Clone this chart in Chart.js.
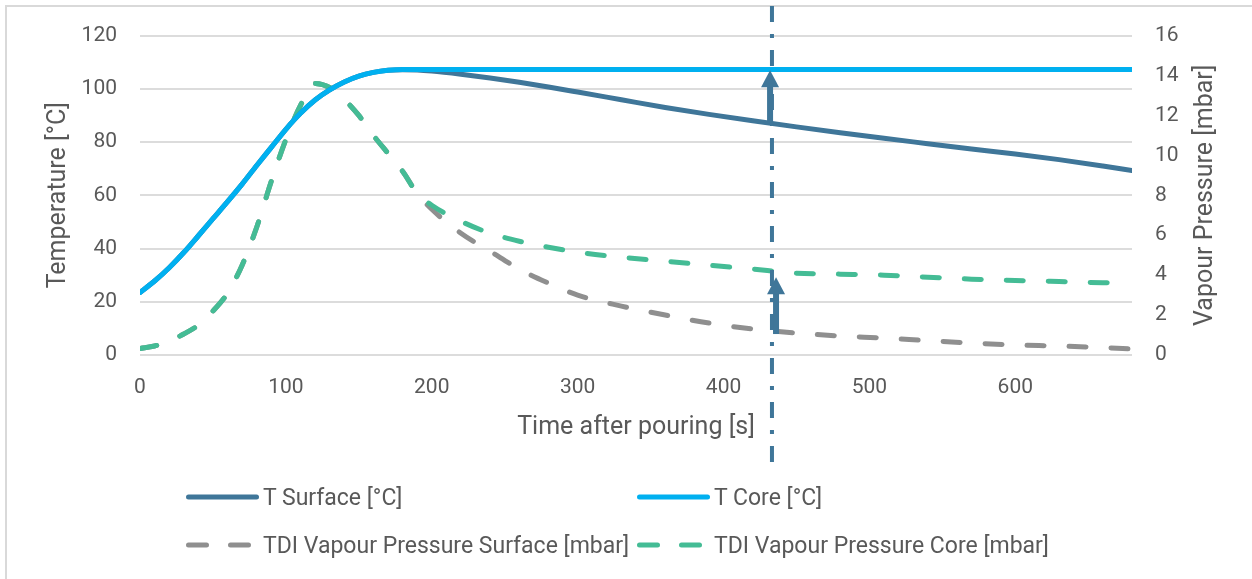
<!DOCTYPE html>
<html>
<head>
<meta charset="utf-8">
<title>Temperature and TDI vapour pressure after pouring</title>
<script src="https://cdn.jsdelivr.net/npm/chart.js@4.4.1/dist/chart.umd.min.js"></script>
<style>
    html, body { margin: 0; padding: 0; background: #fff; }
    #wrap { position: relative; width: 1252px; height: 579px; overflow: hidden; font-family: Roboto, sans-serif; color: #595959; }
    #frame { position: absolute; left: 5px; top: 5px; right: -10px; bottom: -10px; border-left: 2px solid #d9d9d9; border-top: 2px solid #d9d9d9; }
    #chart { position: absolute; left: 0; top: 0; }
    .legend-item { position: absolute; height: 30px; display: flex; align-items: center; font-size: 23px; white-space: nowrap; }
    .legend-item span { margin-left: 2px; }
</style>
</head>
<body>
<div id="wrap">
    <div id="frame"></div>
    <canvas id="chart" width="1252" height="579"></canvas>
    <div id="legend"></div>
</div>
<script>
// time after pouring [s]
const timeSec = [0, 10, 20, 30, 40, 50, 60, 70, 80, 90, 100, 110, 120, 130, 140, 150, 160, 170, 180, 190, 200,
    220, 240, 260, 280, 300, 330, 360, 390, 420, 450, 480, 510, 540, 570, 600, 630, 660, 680];

// temperatures [°C]
const tSurface = [23.5, 27.8, 32.8, 38.5, 44.8, 51.2, 57.6, 64.2, 71.2, 78, 84.8, 90.8, 95.8, 99.6, 102.6, 104.8, 106.2, 107, 107.2, 107.1, 106.7,
    105.5, 104.1, 102.5, 100.7, 98.8, 95.9, 93, 90.4, 88, 85.7, 83.5, 81.4, 79.4, 77.4, 75.5, 73.4, 71, 69.3];
const tCore = [23.5, 27.8, 32.8, 38.5, 44.8, 51.2, 57.6, 64.2, 71.2, 78, 84.8, 90.8, 95.8, 99.6, 102.6, 104.8, 106.2, 107, 107.3, 107.3, 107.3,
    107.3, 107.3, 107.3, 107.3, 107.3, 107.3, 107.3, 107.3, 107.3, 107.3, 107.3, 107.3, 107.3, 107.3, 107.3, 107.3, 107.3, 107.3];

// TDI vapour pressure [mbar]
const vpSurface = [0.33, 0.45, 0.7, 1.05, 1.5, 2.2, 3.1, 4.5, 6.4, 8.7, 10.8, 12.5, 13.6, 13.4, 12.8, 12.0, 11.0, 10.1, 9.2, 8.1, 7.3,
    6.1, 5.2, 4.3, 3.6, 3.0, 2.45, 2.0, 1.6, 1.3, 1.1, 0.95, 0.85, 0.72, 0.6, 0.5, 0.45, 0.37, 0.3];
const vpCore = [0.33, 0.45, 0.7, 1.05, 1.5, 2.2, 3.1, 4.5, 6.4, 8.7, 10.8, 12.5, 13.6, 13.4, 12.8, 12.0, 11.0, 10.1, 9.2, 8.1, 7.5,
    6.7, 6.1, 5.7, 5.4, 5.15, 4.9, 4.7, 4.5, 4.3, 4.1, 4.05, 4.0, 3.9, 3.8, 3.73, 3.68, 3.62, 3.6];

const seriesNames = ['T Surface [°C]', 'T Core [°C]', 'TDI Vapour Pressure Surface [mbar]', 'TDI Vapour Pressure Core [mbar]'];
const seriesColors = ['#3f7699', '#00b0f0', '#8f8f8f', '#44bc95'];

// marker at t = 433 s with the two arrows
const markerTime = 433.2;
const tempArrow = { time: 431.9, from: 87.5, to: 107 };
const vpArrow = { time: 436, from: 1.05, to: 3.9 };

const textColor = '#595959';

function toPoints(values) {
    return timeSec.map((t, i) => ({ x: t, y: values[i] }));
}

function drawArrow(ctx, x, yFrom, yTo) {
    const head = 17;
    ctx.beginPath();
    ctx.moveTo(x, yFrom);
    ctx.lineTo(x, yTo + head - 1);
    ctx.stroke();
    ctx.beginPath();
    ctx.moveTo(x, yTo);
    ctx.lineTo(x - 9, yTo + head);
    ctx.lineTo(x + 9, yTo + head);
    ctx.closePath();
    ctx.fill();
}

const markerPlugin = {
    id: 'marker',
    afterDatasetsDraw(chart) {
        const ctx = chart.ctx;
        const x = chart.scales.x;
        const y = chart.scales.y;
        const y1 = chart.scales.y1;
        const mx = x.getPixelForValue(markerTime);

        ctx.save();
        ctx.strokeStyle = seriesColors[0];
        ctx.fillStyle = seriesColors[0];
        ctx.lineWidth = 4;
        ctx.setLineDash([16, 12, 4, 12]);
        ctx.lineDashOffset = -6;
        ctx.beginPath();
        ctx.moveTo(mx, 0);
        ctx.lineTo(mx, chart.chartArea.bottom + 107);
        ctx.stroke();

        ctx.setLineDash([]);
        ctx.lineWidth = 6;
        drawArrow(ctx, x.getPixelForValue(tempArrow.time), y.getPixelForValue(tempArrow.from), y.getPixelForValue(tempArrow.to));
        drawArrow(ctx, x.getPixelForValue(vpArrow.time), y1.getPixelForValue(vpArrow.from), y1.getPixelForValue(vpArrow.to));
        ctx.restore();
    }
};

// right axis title reads bottom-to-top like the left one
const rightTitlePlugin = {
    id: 'rightTitle',
    afterDraw(chart) {
        const ctx = chart.ctx;
        const s = chart.scales.y1;
        ctx.save();
        ctx.translate(s.right - 46, (chart.chartArea.top + chart.chartArea.bottom) / 2);
        ctx.rotate(-Math.PI / 2);
        ctx.font = '25px Roboto';
        ctx.fillStyle = textColor;
        ctx.textAlign = 'center';
        ctx.textBaseline = 'middle';
        ctx.fillText('Vapour Pressure [mbar]', 0, 0);
        ctx.restore();
    }
};

const ctx = document.getElementById('chart').getContext('2d');
new Chart(ctx, {
    type: 'line',
    data: {
        datasets: [
            { label: seriesNames[0], data: toPoints(tSurface), yAxisID: 'y', borderColor: seriesColors[0], borderWidth: 5, order: 2 },
            { label: seriesNames[1], data: toPoints(tCore), yAxisID: 'y', borderColor: seriesColors[1], borderWidth: 5, order: 1 },
            { label: seriesNames[2], data: toPoints(vpSurface), yAxisID: 'y1', borderColor: seriesColors[2], borderWidth: 5, borderDash: [17, 25], order: 4 },
            { label: seriesNames[3], data: toPoints(vpCore), yAxisID: 'y1', borderColor: seriesColors[3], borderWidth: 5, borderDash: [17, 25], order: 3 }
        ]
    },
    options: {
        responsive: false,
        animation: false,
        layout: { padding: { top: 35, bottom: 134, left: 0, right: 0 } },
        elements: {
            point: { radius: 0 },
            line: { tension: 0.4, cubicInterpolationMode: 'monotone', borderCapStyle: 'round', borderJoinStyle: 'round', fill: false }
        },
        plugins: {
            legend: { display: false },
            tooltip: { enabled: false }
        },
        scales: {
            x: {
                type: 'linear',
                min: 0,
                max: 680,
                grid: { display: false },
                border: { display: false },
                ticks: { stepSize: 100, includeBounds: false, padding: 12, color: textColor, font: { family: 'Roboto', size: 21 } },
                title: { display: true, text: 'Time after pouring [s]', color: textColor, font: { family: 'Roboto', size: 25 }, padding: { top: 0, bottom: 2 } },
                afterFit: function(scale) { scale.height = 90; }
            },
            y: {
                position: 'left',
                min: 0,
                max: 120,
                grid: { color: '#dcdcdc', lineWidth: 2, drawTicks: false },
                border: { display: false },
                ticks: { stepSize: 20, padding: 23, color: textColor, font: { family: 'Roboto', size: 21 } },
                title: { display: true, text: 'Temperature [°C]', color: textColor, font: { family: 'Roboto', size: 25 }, padding: { top: 44, bottom: 0 } },
                afterFit: function(scale) { scale.width = 140; }
            },
            y1: {
                position: 'right',
                min: 0,
                max: 16,
                grid: { display: false, drawTicks: false },
                border: { display: false },
                ticks: { stepSize: 2, padding: 23, color: textColor, font: { family: 'Roboto', size: 21 } },
                afterFit: function(scale) { scale.width = 120; }
            }
        }
    },
    plugins: [markerPlugin, rightTitlePlugin]
});

// legend laid out in two columns like the original
const legendPos = [
    { left: 183, top: 482 },
    { left: 634, top: 482 },
    { left: 183, top: 530 },
    { left: 634, top: 530 }
];
const legend = document.getElementById('legend');
seriesNames.forEach(function(name, i) {
    const dashed = i >= 2;
    const item = document.createElement('div');
    item.className = 'legend-item';
    item.style.left = legendPos[i].left + 'px';
    item.style.top = legendPos[i].top + 'px';
    const line = dashed
        ? '<line x1="5.5" y1="6" x2="65.5" y2="6" stroke-dasharray="18 24"/>'
        : '<line x1="5.5" y1="6" x2="73.5" y2="6"/>';
    item.innerHTML = '<svg width="78" height="12" stroke="' + seriesColors[i] + '" stroke-width="5" stroke-linecap="round">' + line + '</svg>' +
        '<span>' + name + '</span>';
    legend.appendChild(item);
});
</script>
</body>
</html>
